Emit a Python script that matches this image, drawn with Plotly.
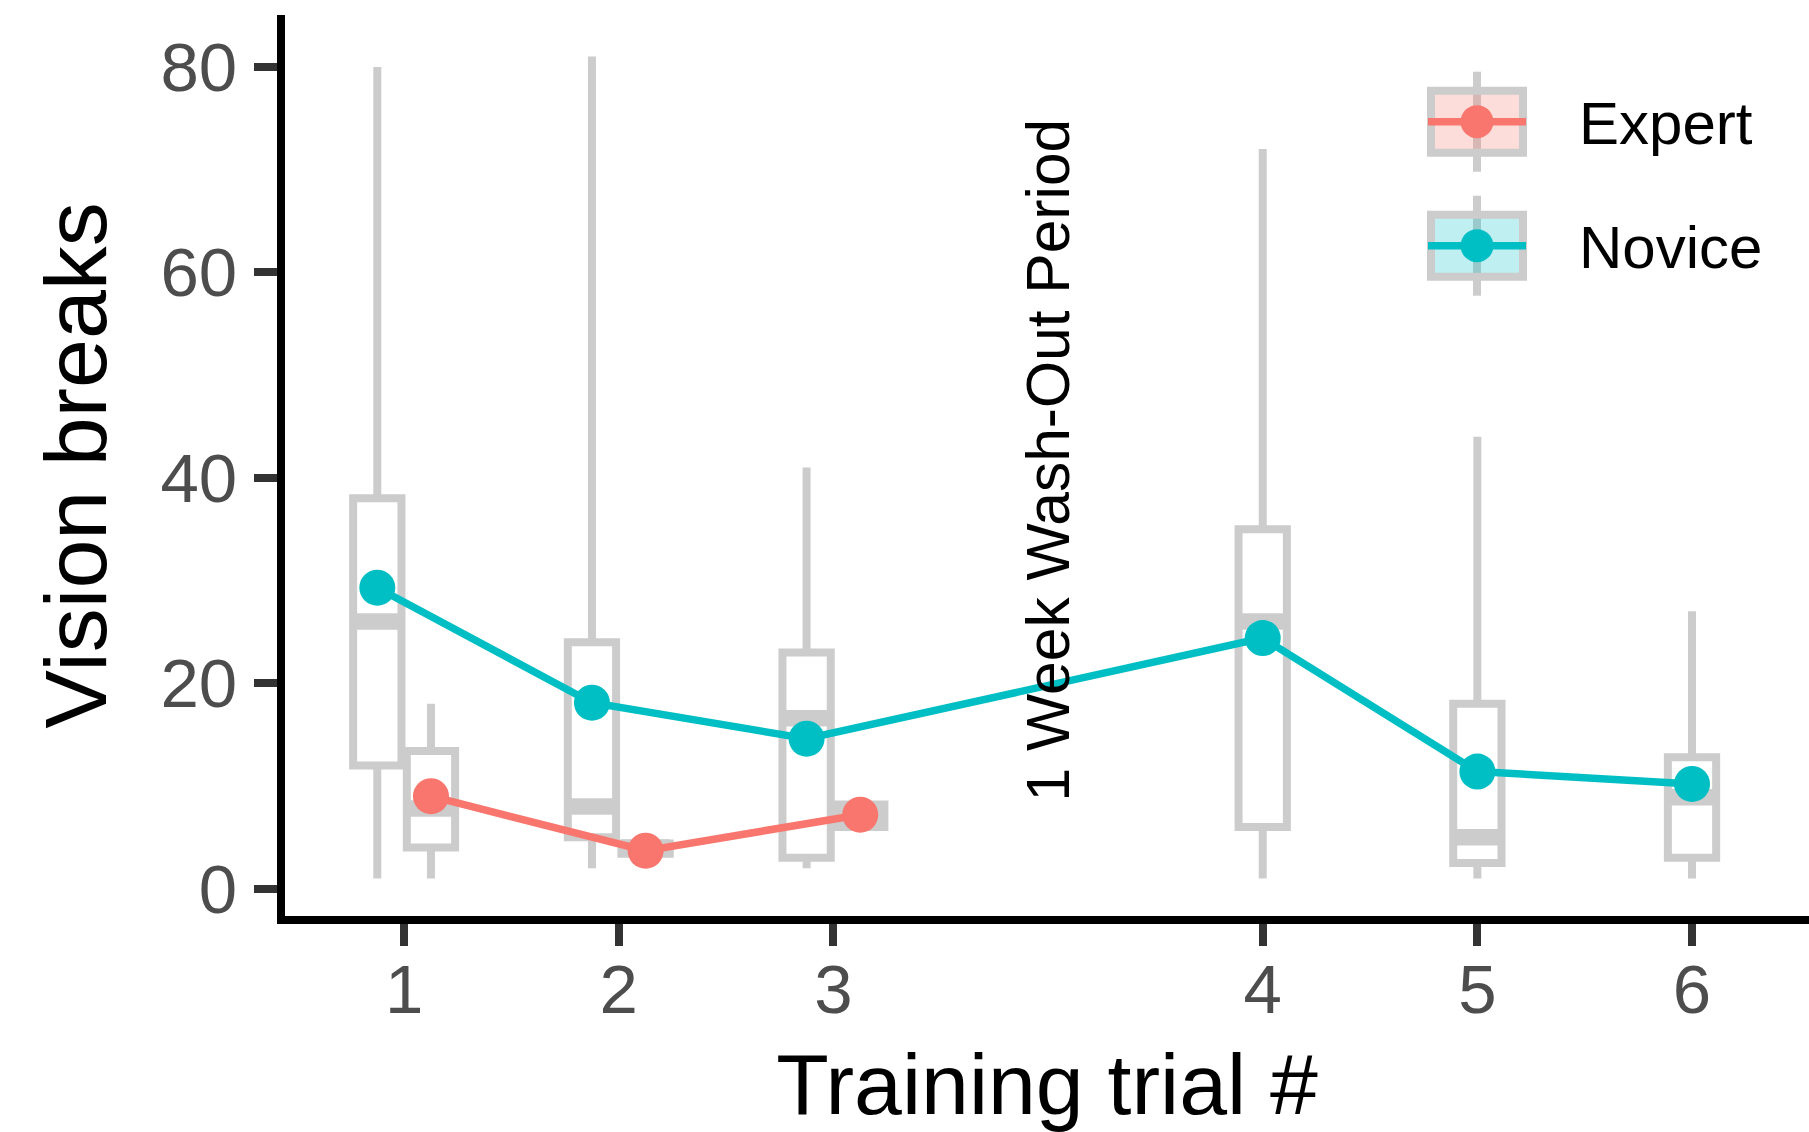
import plotly.graph_objects as go

# ---------------- data ----------------
trial_labels = ["1", "2", "3", "4", "5", "6"]
trial_pos = [1, 2, 3, 5, 6, 7]          # gap after trial 3 for the wash-out week

nov_trials = [1, 2, 3, 4, 5, 6]
nov_min = [1, 2, 2, 1, 1, 1]
nov_q1 = [12, 5, 3, 6, 2.5, 3]
nov_med = [26, 8, 16.6, 26, 5, 8.9]
nov_q3 = [38, 24, 23, 35, 18, 12.8]
nov_max = [80, 81, 41, 72, 44, 27]
nov_mean = [29.3, 18.1, 14.6, 24.4, 11.4, 10.2]

exp_trials = [1, 2, 3]
exp_min = [1, 3, 6]
exp_q1 = [4, 3.4, 6]
exp_med = [7.8, 4, 7.1]
exp_q3 = [13.4, 4.4, 8.2]
exp_max = [18, 4.6, 8.2]
exp_mean = [9.0, 3.7, 7.2]

washout_label = "1 Week Wash-Out Period"
washout_x = 4
washout_y = 41.7

# ---------------- styling ----------------
W, H = 1809, 1132
ML, MR, MT, MB = 285, 0, 15, 216
PW, PH = W - ML - MR, H - MT - MB
FONT = "Liberation Sans, Arial, Helvetica, sans-serif"
GREY = "#CCCCCC"
C_EXP = "#F8766D"
C_NOV = "#00BFC4"
BOX_W = 0.225
DODGE = 0.125

def positions(trials, group_index):
    out = []
    for t in trials:
        p = trial_pos[t - 1]
        both = t in exp_trials and t in nov_trials
        out.append(p + (DODGE * (1 if group_index else -1) if both else 0))
    return out

nov_x = positions(nov_trials, 0)
exp_x = positions(exp_trials, 1)

fig = go.Figure()

def add_box(xs, lo, q1, med, q3, hi):
    fig.add_trace(go.Box(
        x=xs, q1=q1, median=med, q3=q3, lowerfence=lo, upperfence=hi,
        width=BOX_W, whiskerwidth=0, boxpoints=False,
        line=dict(color=GREY, width=8), fillcolor="white",
        showlegend=False, hoverinfo="skip"))

add_box(nov_x, nov_min, nov_q1, nov_med, nov_q3, nov_max)
add_box(exp_x, exp_min, exp_q1, exp_med, exp_q3, exp_max)

# thicker median bars (ggplot fatten)
mx, my = [], []
for xs, meds in ((nov_x, nov_med), (exp_x, exp_med)):
    for x, m in zip(xs, meds):
        mx += [x - BOX_W / 2, x + BOX_W / 2, None]
        my += [m, m, None]
fig.add_trace(go.Scatter(x=mx, y=my, mode="lines",
                         line=dict(color=GREY, width=16.5),
                         showlegend=False, hoverinfo="skip"))

for xs, ys, col in ((exp_x, exp_mean, C_EXP), (nov_x, nov_mean, C_NOV)):
    fig.add_trace(go.Scatter(x=xs, y=ys, mode="lines+markers",
                             line=dict(color=col, width=7.5),
                             marker=dict(color=col, size=36),
                             showlegend=False))

fig.add_annotation(x=washout_x, y=washout_y, xref="x", yref="y",
                   text=washout_label, textangle=-90, showarrow=False,
                   font=dict(family=FONT, size=60.5, color="black"))

# ---------------- manual legend ----------------
def px(xp):
    return (xp - ML) / PW

def py(yp):
    return (H - MB - yp) / PH

legend_items = [("Expert", C_EXP, "rgba(248,118,109,0.25)", 121.7),
                ("Novice", C_NOV, "rgba(0,191,196,0.25)", 245.7)]
shapes = []
kx0, kx1 = 1431, 1523
kxc = (kx0 + kx1) / 2
for name, col, fill, yc in legend_items:
    shapes.append(dict(type="line", xref="paper", yref="paper",
                       x0=px(kxc), x1=px(kxc), y0=py(yc - 50), y1=py(yc + 50),
                       line=dict(color=GREY, width=8)))
    shapes.append(dict(type="rect", xref="paper", yref="paper",
                       x0=px(kx0), x1=px(kx1), y0=py(yc - 31), y1=py(yc + 31),
                       line=dict(color=GREY, width=8), fillcolor=fill))
    shapes.append(dict(type="line", xref="paper", yref="paper",
                       x0=px(kx0 - 3), x1=px(kx1 + 3), y0=py(yc), y1=py(yc),
                       line=dict(color=col, width=7.5)))
    shapes.append(dict(type="circle", xref="paper", yref="paper",
                       x0=px(kxc - 16.5), x1=px(kxc + 16.5),
                       y0=py(yc - 16.5), y1=py(yc + 16.5),
                       line=dict(width=0), fillcolor=col))
    fig.add_annotation(x=px(1577), y=py(yc + 2), xref="paper", yref="paper",
                       xanchor="left", yanchor="middle", text=name,
                       showarrow=False,
                       font=dict(family=FONT, size=60, color="black"))

fig.update_layout(
    width=W, height=H,
    margin=dict(l=ML, r=MR, t=MT, b=MB, pad=0),
    paper_bgcolor="white", plot_bgcolor="white",
    boxmode="overlay",
    shapes=shapes,
    font=dict(family=FONT),
    xaxis=dict(range=[0.445, 7.545], tickvals=trial_pos, ticktext=trial_labels,
               showgrid=False, zeroline=False, showline=True,
               linecolor="black", linewidth=8,
               ticks="outside", ticklen=22, tickwidth=8, tickcolor="#333333",
               ticklabelstandoff=-16,
               tickfont=dict(family=FONT, size=69, color="#4D4D4D"),
               title=dict(text="Training trial #",
                          font=dict(family=FONT, size=86, color="black"),
                          standoff=36)),
    yaxis=dict(range=[-2.66, 85.05], tickvals=[0, 20, 40, 60, 80],
               showgrid=False, zeroline=False, showline=True,
               linecolor="black", linewidth=8,
               ticks="outside", ticklen=23, tickwidth=8, tickcolor="#333333",
               ticklabelstandoff=3,
               tickfont=dict(family=FONT, size=69, color="#4D4D4D"),
               title=dict(text="Vision breaks",
                          font=dict(family=FONT, size=88, color="black"),
                          standoff=28)),
)

fig.write_html("out.html", config={"displayModeBar": False},
               post_script="document.body.style.margin='0';")
